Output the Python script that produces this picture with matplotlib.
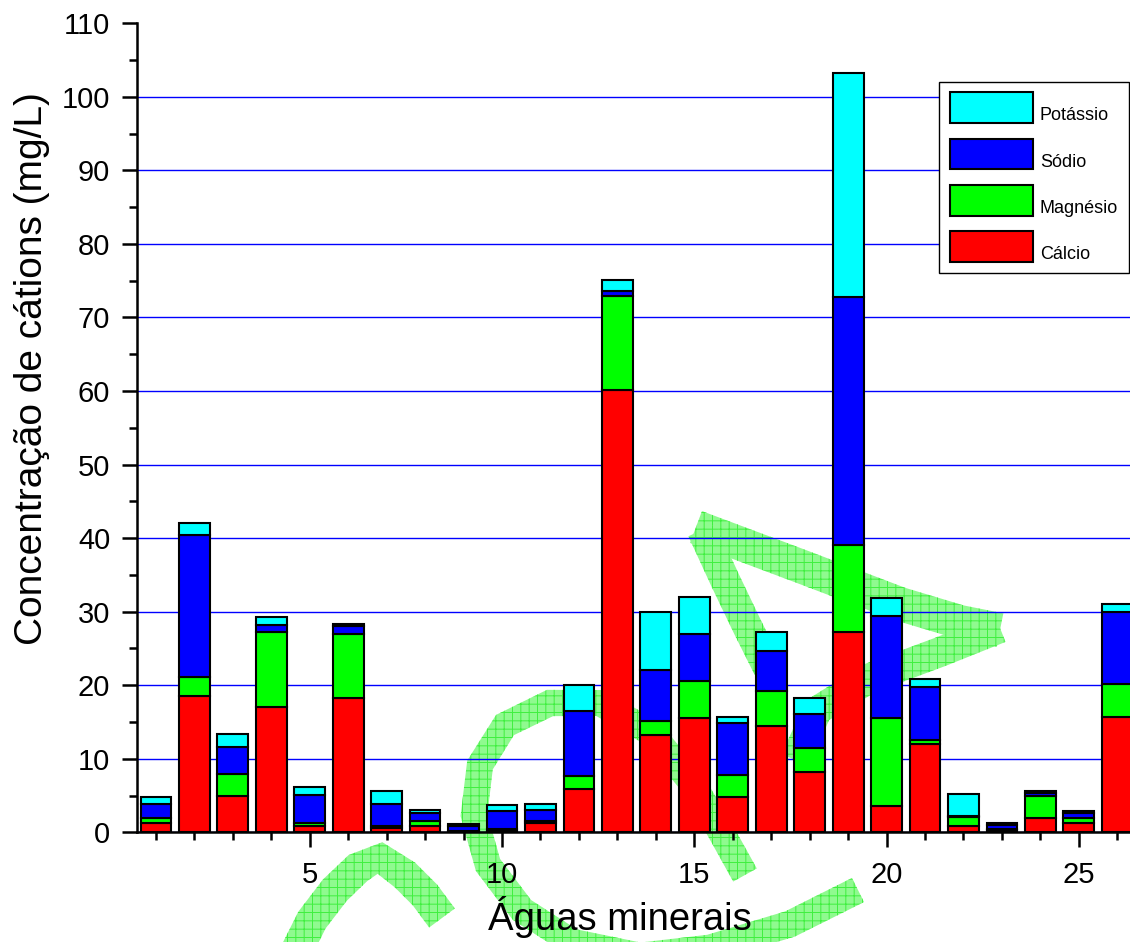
import numpy as np
import matplotlib.pyplot as plt
from matplotlib.patches import Polygon

plt.rcParams['font.family'] = ['Liberation Sans', 'DejaVu Sans']
plt.rcParams['hatch.linewidth'] = 0.7

aguas = np.arange(1, 27)
calcio = [1.3, 18.6, 5.0, 17.1, 0.85, 18.3, 0.55, 0.85, 0.1, 0.2, 1.2, 5.85, 60.1,
          13.2, 15.5, 4.75, 14.5, 8.15, 27.2, 3.6, 12.0, 0.85, 0.3, 1.9, 1.3, 15.7]
magnesio = [0.6, 2.5, 2.9, 10.1, 0.45, 8.6, 0.3, 0.7, 0.05, 0.25, 0.35, 1.75, 12.8,
            1.95, 5.1, 3.1, 4.7, 3.25, 11.9, 11.9, 0.55, 1.2, 0.2, 3.1, 0.6, 4.5]
sodio = [1.95, 19.3, 3.75, 1.0, 3.8, 1.1, 3.0, 1.05, 0.65, 2.5, 1.55, 8.95, 0.75,
         6.95, 6.3, 7.05, 5.5, 4.75, 33.7, 13.9, 7.15, 0.1, 0.5, 0.35, 0.7, 9.8]
potassio = [0.9, 1.7, 1.65, 1.1, 1.0, 0.3, 1.75, 0.5, 0.35, 0.75, 0.75, 3.5, 1.45,
            7.9, 5.1, 0.8, 2.5, 2.05, 30.5, 2.4, 1.2, 3.05, 0.3, 0.3, 0.25, 1.0]

series = [('Cálcio', calcio, '#ff0000'),
          ('Magnésio', magnesio, '#00ff00'),
          ('Sódio', sodio, '#0000ff'),
          ('Potássio', potassio, '#00ffff')]

W, H = 1130, 942
fig = plt.figure(figsize=(W / 100, H / 100), dpi=100)
ax = fig.add_axes([136.7 / W, 1 - 832.3 / H, (W - 136.7) / W, 809 / H])
ax.patch.set_alpha(0)

# green watermark behind the chart, drawn as thick bands (pixel coords of the picture)
def band(pts, width):
    p = np.array(pts, dtype=float)
    d = np.gradient(p, axis=0)
    n = np.stack([-d[:, 1], d[:, 0]], axis=1)
    n /= np.linalg.norm(n, axis=1)[:, None]
    poly = np.vstack([p + n * width / 2, (p - n * width / 2)[::-1]])
    poly[:, 0] /= W
    poly[:, 1] = 1 - poly[:, 1] / H
    fig.add_artist(Polygon(poly, closed=True, transform=fig.transFigure,
                           facecolor='#8ffa8f', edgecolor='#3fef3f', lw=0,
                           hatch='++', zorder=-5))

band([(745, 875), (720, 830), (690, 780), (650, 732), (600, 703), (550, 703),
      (505, 725), (480, 765), (474, 815), (488, 865), (522, 910), (572, 942),
      (640, 956), (710, 948), (790, 924), (858, 890)], 27)
band([(696, 527), (800, 566), (900, 604), (960, 622), (1000, 630)], 34)
band([(702, 530), (725, 580), (748, 628), (768, 668)], 30)
band([(1000, 628), (940, 652), (870, 678), (818, 710), (795, 760)], 30)
band([(292, 960), (312, 920), (335, 890), (358, 868), (380, 858), (405, 875),
      (425, 895), (442, 918)], 32)

bottom = np.zeros(len(aguas))
for nome, vals, cor in series:
    ax.bar(aguas, vals, width=0.8, bottom=bottom, color=cor, edgecolor='black',
           linewidth=1.5, label=nome, zorder=3)
    bottom += np.array(vals)

ax.set_xlim(0.5, 26.33)
ax.set_ylim(0, 110)
ax.set_xticks([5, 10, 15, 20, 25])
ax.set_xticks(aguas, minor=True)
ax.set_yticks(np.arange(0, 111, 10))
ax.set_yticks(np.arange(5, 110, 10), minor=True)
ax.yaxis.grid(True, color='#0000ff', linewidth=1.0, zorder=1)
ax.get_ygridlines()[-1].set_visible(False)
ax.set_axisbelow(True)

for s in ['top', 'right']:
    ax.spines[s].set_visible(False)
for s in ['left', 'bottom']:
    ax.spines[s].set_linewidth(1.8)

ax.tick_params(which='major', length=11, width=1.8, labelsize=21)
ax.tick_params(which='minor', length=6, width=1.8)
ax.tick_params(axis='x', which='major', pad=10)
ax.tick_params(axis='y', which='major', pad=8)

ax.set_xlabel('Águas minerais', fontsize=27.5, labelpad=5)
ax.xaxis.label.set_x(0.486)
ax.set_ylabel('Concentração de cátions (mg/L)', fontsize=28)
ax.yaxis.set_label_coords(-0.087, 0.573)

handles, labels = ax.get_legend_handles_labels()
leg = ax.legend(handles[::-1], labels[::-1], loc='upper right',
                bbox_to_anchor=(0.999, 0.928), borderaxespad=0, fontsize=13,
                fancybox=False, edgecolor='black', framealpha=1,
                handlelength=4.6, handleheight=2.25, labelspacing=0.85,
                handletextpad=0.4, borderpad=0.6)
leg.get_frame().set_linewidth(1.0)
for t in leg.get_texts():
    t.set_y(-7)

fig.savefig('out.png', dpi=100)
